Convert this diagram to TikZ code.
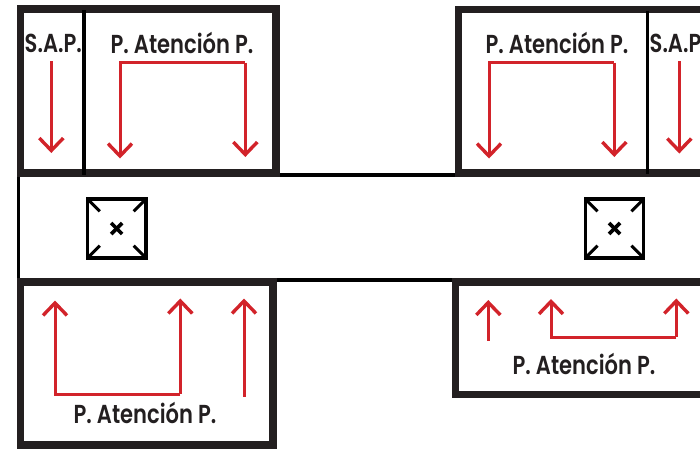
\documentclass[tikz,border=0pt]{standalone}
\usepackage{fontspec}
\setmainfont{Poppins SemiBold}
\usetikzlibrary{arrows.meta}
\definecolor{wallc}{HTML}{231F20}
\definecolor{flowc}{HTML}{D2232A}
\tikzset{
  wall/.style={draw=wallc,line width=7.2pt,miter limit=10},
  thinwall/.style={draw=black,line width=3.4pt},
  shaft/.style={draw=black,line width=3.4pt},
  tick/.style={draw=black,line width=3pt},
  cross/.style={draw=black,line width=3.6pt},
  flow/.style={draw=flowc,line width=3pt,-{Straight Barb[length=12.5pt,width=24pt,line width=3.4pt]},line join=miter},
  lbl/.style={text=wallc,font=\fontsize{26}{30}\selectfont,xscale=0.81,inner sep=0pt,anchor=center},
}
\newcommand{\liftcar}[3]{%
  \node[shaft,minimum width=58.5pt,minimum height=59pt,inner sep=0pt,anchor=center] (#1) at (#2,#3) {};
  \draw[tick] ([shift={(3,3)}]#1.north west) -- ([shift={(14,14)}]#1.north west);
  \draw[tick] ([shift={(-3,3)}]#1.north east) -- ([shift={(-14,14)}]#1.north east);
  \draw[tick] ([shift={(3,-3)}]#1.south west) -- ([shift={(14,-14)}]#1.south west);
  \draw[tick] ([shift={(-3,-3)}]#1.south east) -- ([shift={(-14,-14)}]#1.south east);
  \coordinate (#1x) at (#2,#3);
  \draw[cross] ([shift={(-5.5,-5.5)}]#1x) -- ([shift={(5.5,5.5)}]#1x);
  \draw[cross] ([shift={(-5.5,5.5)}]#1x) -- ([shift={(5.5,-5.5)}]#1x);
}
\begin{document}
\begin{tikzpicture}[x=1pt,y=-1pt]
\useasboundingbox (0,0) rectangle (700,448);
% corridor
\coordinate (cTL) at (18.7,175);
\coordinate (cBL) at (18.7,280);
\coordinate (cTa) at (277,175);
\coordinate (cTb) at (457,175);
\coordinate (cBa) at (273,280);
\coordinate (cBb) at (455,280);
\draw[thinwall] (cTL) -- (cBL) -- (cBa);
\draw[thinwall] (cBa) -- (cBb);
\draw[thinwall] (cTL) -- (cTa) -- (cTb);
% rooms
\draw[wall] (20.4,9) rectangle (276,173);
\draw[wall] (273,282) rectangle (20.4,445);
\draw[wall] (710,9.5) -- (458.3,9.5) -- (458.3,173) -- (710,173);
\draw[wall] (710,282) -- (455.3,282) -- (455.3,394.3) -- (710,394.3);
% dividers
\coordinate (d1a) at (84,10);
\coordinate (d1b) at (84,175);
\coordinate (d2a) at (647.3,11);
\coordinate (d2b) at (647.3,174);
\draw[thinwall] (d1a) -- (d1b);
\draw[thinwall] (d2a) -- (d2b);
% lifts
\liftcar{carL}{116.7}{228.5}
\liftcar{carR}{614.5}{228.5}
% labels
\node[lbl] (t1) at (53.3,43) {S.A.P.};
\node[lbl] (t2) at (182,43) {P. Atención P.};
\node[lbl] (t3) at (557,43) {P. Atención P.};
\node[lbl,anchor=west] (t4) at (649.5,43) {S.A.P};
\node[lbl] (t5) at (145,413) {P. Atención P.};
\node[lbl] (t6) at (584,364) {P. Atención P.};
% flows
\coordinate (a1s) at (51.3,61); \coordinate (a1e) at (51.3,153);
\draw[flow] (a1s) -- (a1e);
\coordinate (a2s) at (245.3,62.7); \coordinate (a2m) at (120,62.7);
\coordinate (a2e) at (120,158.5); \coordinate (a2f) at (245.3,157);
\draw[flow] (a2s) -- (a2m) -- (a2e);
\draw[flow] (a2s) -- (a2f);
\coordinate (a3s) at (614.3,62.7); \coordinate (a3m) at (489,62.7);
\coordinate (a3e) at (489,158.5); \coordinate (a3f) at (614.3,157);
\draw[flow] (a3s) -- (a3m) -- (a3e);
\draw[flow] (a3s) -- (a3f);
\coordinate (a4s) at (679.3,61); \coordinate (a4e) at (679.3,153.5);
\draw[flow] (a4s) -- (a4e);
\coordinate (b1s) at (180.3,394); \coordinate (b1m) at (55,394);
\coordinate (b1e) at (55,300.5); \coordinate (b1f) at (180.3,298.5);
\draw[flow] (b1s) -- (b1m) -- (b1e);
\draw[flow] (b1s) -- (b1f);
\coordinate (b2s) at (244,396.7); \coordinate (b2e) at (244,298.5);
\draw[flow] (b2s) -- (b2e);
\coordinate (b3s) at (488.3,340.7); \coordinate (b3e) at (488.3,300);
\draw[flow] (b3s) -- (b3e);
\coordinate (b4s) at (676.3,337.3); \coordinate (b4m) at (551,337.3);
\coordinate (b4e) at (551,299); \coordinate (b4f) at (676.3,298.5);
\draw[flow] (b4s) -- (b4m) -- (b4e);
\draw[flow] (b4s) -- (b4f);
\end{tikzpicture}
\end{document}
